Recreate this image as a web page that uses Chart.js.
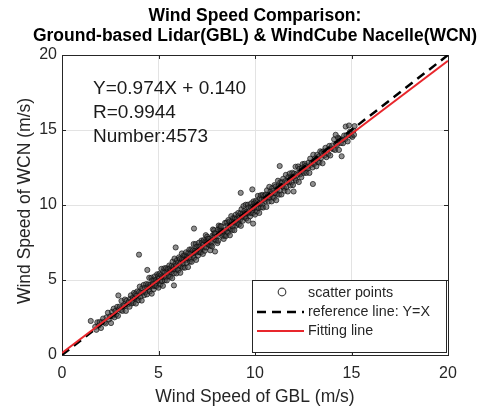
<!DOCTYPE html>
<html>
<head>
<meta charset="utf-8">
<script src="https://cdn.jsdelivr.net/npm/chart.js"></script>
<style>
  html, body { margin: 0; padding: 0; background: #fff; }
  #wrap { width: 483px; height: 407px; }
</style>
</head>
<body>
<div id="wrap"><canvas id="windChart" width="483" height="407"></canvas></div>
<script>
// titles and labels
const titleLines = ['Wind Speed Comparison:', 'Ground-based Lidar(GBL) & WindCube Nacelle(WCN)'];
const xTitle = 'Wind Speed of GBL (m/s)';
const yTitle = 'Wind Speed of WCN (m/s)';
const statLines = ['Y=0.974X + 0.140', 'R=0.9944', 'Number:4573'];
const legendLabels = ['scatter points', 'reference line: Y=X', 'Fitting line'];

// axis ticks
const axisTicks = [0, 5, 10, 15, 20];

// fit: slope, intercept
const fitCoef = [0.974, 0.140];
// reference line Y=X end points
const refX = [0, 20];
const refY = [0, 20];

// scatter points (GBL -> x, WCN -> y)
const gblSpeed = [
  1.72,1.78,1.83,1.9,1.95,2.02,2.08,2.13,2.2,2.26,2.31,2.38,2.44,
  2.5,2.54,2.59,2.63,2.68,2.72,2.77,2.81,2.86,2.9,2.95,2.99,3.04,3.08,3.13,3.17,3.22,3.26,3.31,3.35,3.4,3.45,
  3.5,3.53,3.57,3.6,3.63,3.67,3.7,3.73,3.77,3.8,3.83,3.86,3.9,3.93,3.96,4.0,4.03,4.06,4.1,4.13,4.16,4.2,4.23,4.26,4.3,4.33,4.36,4.4,4.43,4.47,
  4.5,4.52,4.55,4.57,4.6,4.63,4.65,4.68,4.7,4.73,4.75,4.78,4.8,4.83,4.85,4.88,4.9,4.93,4.95,4.98,5.0,5.03,5.05,5.08,5.1,5.13,5.15,5.18,5.2,5.23,5.25,5.28,5.3,5.33,5.35,5.38,5.4,5.43,5.45,5.48,
  5.51,5.53,5.56,5.58,5.61,5.63,5.66,5.68,5.71,5.73,5.76,5.78,5.81,5.83,5.86,5.88,5.91,5.93,5.96,5.98,6.01,6.03,6.06,6.08,6.11,6.13,6.16,6.18,6.21,6.23,6.26,6.28,6.31,6.33,6.36,6.38,6.41,6.43,6.46,6.48,
  6.5,6.53,6.55,6.57,6.6,6.63,6.65,6.67,6.7,6.72,6.75,6.78,6.8,6.82,6.85,6.88,6.9,6.93,6.95,6.97,7.0,7.03,7.05,7.07,7.1,7.13,7.15,7.17,7.2,7.23,7.25,7.27,7.3,7.33,7.35,7.37,7.4,7.43,7.45,7.47,
  7.5,7.52,7.55,7.58,7.6,7.62,7.65,7.68,7.7,7.72,7.75,7.78,7.8,7.82,7.85,7.88,7.9,7.92,7.95,7.98,8.0,8.02,8.05,8.08,8.1,8.12,8.15,8.18,8.2,8.22,8.25,8.28,8.3,8.32,8.35,8.38,8.4,8.42,8.45,8.48,
  8.5,8.53,8.55,8.57,8.6,8.62,8.65,8.68,8.7,8.73,8.75,8.77,8.8,8.83,8.85,8.87,8.9,8.93,8.95,8.97,9.0,9.03,9.05,9.07,9.1,9.13,9.15,9.17,9.2,9.23,9.25,9.27,9.3,9.33,9.35,9.37,9.4,9.43,9.45,9.47,
  9.5,9.52,9.55,9.57,9.6,9.63,9.65,9.67,9.7,9.73,9.75,9.78,9.8,9.82,9.85,9.88,9.9,9.92,9.95,9.97,10.0,10.03,10.05,10.08,10.1,10.12,10.15,10.18,10.2,10.22,10.25,10.28,10.3,10.32,10.35,10.38,10.4,10.42,10.45,10.48,
  10.5,10.53,10.56,10.59,10.62,10.65,10.68,10.71,10.74,10.77,10.8,10.83,10.86,10.89,10.92,10.95,10.98,11.01,11.04,11.07,11.1,11.13,11.16,11.19,11.22,11.25,11.28,11.31,11.34,11.37,11.4,11.43,11.46,
  11.5,11.53,11.57,11.6,11.63,11.67,11.7,11.73,11.77,11.8,11.83,11.87,11.9,11.93,11.97,12.0,12.03,12.07,12.1,12.13,12.17,12.2,12.23,12.27,12.3,12.33,12.37,12.4,12.43,12.47,
  12.5,12.54,12.58,12.62,12.66,12.7,12.74,12.78,12.82,12.86,12.9,12.94,12.98,13.02,13.06,13.1,13.14,13.18,13.22,13.26,13.3,13.34,13.38,13.42,13.46,
  13.5,13.55,13.6,13.65,13.7,13.75,13.8,13.85,13.9,13.95,14.0,14.05,14.1,14.15,14.2,14.25,14.3,14.35,14.4,14.45,
  14.5,14.56,14.62,14.68,14.74,14.8,14.86,14.92,14.98,15.04,15.1,15.16,
  // scattered outliers
  1.49,2.92,3.99,4.42,5.8,5.89,6.84,7.93,9.26,9.86,9.9,11.28,12.0,13.0,14.49,14.18,14.7,14.87,15.13
];
const wcnSpeed = [
  1.88,1.68,2.18,1.96,2.2,1.8,2.22,2.43,2.18,2.1,2.51,2.82,2.37,
  2.58,2.13,2.88,2.62,3.09,2.51,2.94,2.7,3.21,2.61,3.06,3.23,2.99,3.61,2.94,3.31,3.26,3.7,2.94,3.63,3.37,3.53,
  3.22,3.75,3.98,3.44,3.61,3.81,3.48,4.14,3.77,4.07,3.43,3.97,4.24,3.82,3.65,4.2,4.56,3.88,4.16,3.63,4.46,4.16,4.67,3.99,4.47,4.18,4.73,4.04,4.52,4.71,
  4.37,5.15,4.23,4.69,4.59,5.15,4.09,4.98,4.59,4.77,4.38,5.0,5.24,4.6,4.79,5.01,4.6,5.38,4.91,5.26,4.49,5.12,5.41,4.91,4.7,5.33,5.74,4.93,5.23,4.61,5.57,5.2,5.78,4.98,5.51,5.17,5.8,4.97,5.52,5.73,
  5.42,5.27,5.97,5.77,5.21,5.64,5.52,5.95,5.12,6.22,5.72,5.87,5.46,6.43,5.7,6.1,5.95,5.44,6.33,5.74,6.14,5.65,6.51,5.97,6.4,5.48,6.16,5.9,6.77,6.4,5.83,6.08,6.64,6.39,5.82,6.63,6.34,6.85,6.13,6.58,
  6.48,5.86,6.82,6.44,7.03,6.23,6.76,6.41,7.05,6.21,6.77,6.98,6.62,7.4,6.48,6.95,6.84,7.4,6.34,7.22,6.84,7.02,6.63,7.24,7.49,6.85,7.04,7.25,6.85,7.63,7.16,7.5,6.74,7.37,7.66,7.15,6.95,7.58,7.99,7.17,
  7.55,7.89,7.75,7.59,7.35,7.74,7.32,6.98,7.54,7.29,7.46,7.24,7.97,8.37,7.89,8.32,8.12,7.88,8.09,7.67,7.62,7.9,7.46,8.36,7.62,8.63,8.1,8.42,8.6,8.3,8.57,8.27,8.09,7.92,8.26,7.74,8.21,7.97,8.81,8.34,
  7.94,8.83,8.24,8.63,8.15,9.0,8.47,8.9,7.98,8.66,8.4,9.26,8.9,8.33,8.58,9.13,8.89,8.32,9.13,8.83,9.35,8.63,9.08,8.91,8.77,9.47,9.27,8.7,9.14,9.02,9.45,8.61,9.72,9.22,9.37,8.95,9.93,9.2,9.6,9.44,
  9.24,10.02,9.1,9.56,9.46,10.02,8.96,9.84,9.46,9.64,9.25,9.87,10.11,9.46,9.66,9.88,9.47,10.24,9.78,10.12,9.36,9.99,10.28,9.78,9.57,10.19,10.61,9.8,10.1,9.47,10.44,10.07,10.65,9.84,10.38,10.04,10.67,9.83,10.39,10.6,
  10.38,10.26,10.7,9.87,10.98,10.48,10.64,10.23,11.21,10.48,10.89,10.74,10.24,11.13,10.55,10.95,10.47,11.33,10.8,11.23,10.32,11.0,10.75,11.62,11.26,10.69,10.95,11.51,11.27,10.7,11.52,11.23,11.75,
  11.15,10.95,11.59,12.01,11.2,11.52,10.9,11.87,11.51,12.1,11.3,11.85,11.51,12.15,11.33,11.89,12.1,11.76,12.55,11.63,12.11,12.01,12.57,11.53,12.42,12.04,12.23,11.85,12.47,12.73,
  12.24,12.14,12.75,12.6,12.14,12.53,12.44,12.83,12.14,13.09,12.68,12.83,12.5,13.35,12.74,13.1,12.99,12.58,13.35,12.87,13.23,12.83,13.58,13.14,13.52,
  12.78,13.58,13.31,13.81,13.19,13.65,13.4,13.94,13.3,13.78,13.97,13.72,14.38,13.67,14.07,14.01,14.49,13.67,14.41,14.13,
  14.32,14.12,14.63,14.4,14.65,14.24,14.66,14.88,14.62,14.54,14.96,15.26,
  // scattered outliers
  2.27,3.97,6.69,5.67,4.64,7.17,8.43,6.9,10.81,11.04,8.76,12.6,10.9,11.4,13.25,14.68,15.23,15.3,14.68
];

const FONT = '"Liberation Sans", Arial, Helvetica, sans-serif';
const TEXT = '#262626';

const fitX = [0, 20];
const fitData = fitX.map(x => ({ x: x, y: fitCoef[0] * x + fitCoef[1] }));
const refData = refX.map((x, i) => ({ x: x, y: refY[i] }));
const scatterData = gblSpeed.map((x, i) => ({ x: x, y: wcnSpeed[i] }));

// box, inner ticks, titles, stats text and the matlab-like legend
const decorPlugin = {
  id: 'decor',
  beforeDatasetsDraw(chart) {
    const { ctx, chartArea: a } = chart;
    ctx.save();
    ctx.strokeStyle = '#262626';
    ctx.lineWidth = 1;
    ctx.strokeRect(a.left + 0.5, a.top + 0.5, a.right - a.left, a.bottom - a.top);
    const xs = chart.scales.x, ys = chart.scales.y;
    ctx.beginPath();
    axisTicks.slice(1, -1).forEach(v => {
      const px = Math.round(xs.getPixelForValue(v)) + 0.5;
      ctx.moveTo(px, a.bottom); ctx.lineTo(px, a.bottom - 4);
      ctx.moveTo(px, a.top); ctx.lineTo(px, a.top + 4);
      const py = Math.round(ys.getPixelForValue(v)) + 0.5;
      ctx.moveTo(a.left, py); ctx.lineTo(a.left + 4, py);
      ctx.moveTo(a.right, py); ctx.lineTo(a.right - 4, py);
    });
    ctx.stroke();
    ctx.restore();
  },
  afterDraw(chart) {
    const { ctx, chartArea: a } = chart;
    const cx = (a.left + a.right) / 2;
    ctx.save();
    ctx.textBaseline = 'middle';

    // title
    ctx.fillStyle = '#000';
    ctx.font = 'bold 17.5px ' + FONT;
    ctx.textAlign = 'center';
    ctx.fillText(titleLines[0], cx, 16);
    ctx.fillText(titleLines[1], cx, 36);

    // axis titles
    ctx.fillStyle = TEXT;
    ctx.font = '17.5px ' + FONT;
    ctx.fillText(xTitle, cx, 397);
    ctx.save();
    ctx.translate(25, 201);
    ctx.rotate(-Math.PI / 2);
    ctx.fillText(yTitle, 0, 0);
    ctx.restore();

    // stats
    ctx.textAlign = 'left';
    ctx.fillStyle = '#1a1a1a';
    ctx.font = '19px ' + FONT;
    statLines.forEach((t, i) => ctx.fillText(t, a.left + 31, 89 + i * 24));

    // legend box
    const lx = 252, ly = 280, lw = 194, lh = 72;
    ctx.fillStyle = '#fff';
    ctx.fillRect(lx, ly, lw, lh);
    ctx.strokeStyle = '#262626';
    ctx.lineWidth = 1;
    ctx.strokeRect(lx + 0.5, ly + 0.5, lw, lh);
    const rows = [293, 312, 331];
    ctx.font = '14.3px ' + FONT;
    ctx.fillStyle = TEXT;
    legendLabels.forEach((t, i) => ctx.fillText(t, lx + 56, rows[i]));
    // marker
    ctx.beginPath();
    ctx.arc(lx + 30, rows[0] - 1, 3.8, 0, Math.PI * 2);
    ctx.strokeStyle = '#444';
    ctx.lineWidth = 1.2;
    ctx.stroke();
    // dashed
    ctx.beginPath();
    ctx.setLineDash([9, 6]);
    ctx.strokeStyle = '#000';
    ctx.lineWidth = 2.5;
    ctx.moveTo(lx + 5, rows[1]); ctx.lineTo(lx + 52, rows[1]);
    ctx.stroke();
    ctx.setLineDash([]);
    ctx.beginPath();
    ctx.strokeStyle = '#e8262c';
    ctx.lineWidth = 2;
    ctx.moveTo(lx + 5, rows[2]); ctx.lineTo(lx + 52, rows[2]);
    ctx.stroke();
    ctx.restore();
  }
};

const ctx = document.getElementById('windChart').getContext('2d');
new Chart(ctx, {
  type: 'scatter',
  data: {
    datasets: [
      {
        type: 'line',
        label: legendLabels[2],
        data: fitData,
        borderColor: '#e8262c',
        borderWidth: 2,
        pointRadius: 0,
        fill: false
      },
      {
        type: 'line',
        label: legendLabels[1],
        data: refData,
        borderColor: '#000',
        borderWidth: 2.5,
        borderDash: [9, 6],
        pointRadius: 0,
        fill: false
      },
      {
        label: legendLabels[0],
        data: scatterData,
        pointRadius: 2.6,
        pointBorderWidth: 0.8,
        backgroundColor: 'rgba(70,70,70,0.6)',
        borderColor: 'rgba(10,10,10,0.8)'
      }
    ]
  },
  options: {
    responsive: false,
    animation: false,
    layout: { padding: { left: 0, right: 35, top: 55, bottom: 0 } },
    plugins: {
      legend: { display: false },
      tooltip: { enabled: false },
      title: { display: false }
    },
    scales: {
      x: {
        type: 'linear',
        min: 0,
        max: 20,
        afterFit: s => { s.height = 52; },
        afterBuildTicks: s => { s.ticks = axisTicks.map(v => ({ value: v })); },
        grid: { color: '#e3e3e3', drawTicks: false },
        border: { display: false },
        ticks: { color: TEXT, padding: 9, font: { family: FONT, size: 16 } }
      },
      y: {
        type: 'linear',
        min: 0,
        max: 20,
        afterFit: s => { s.width = 62; },
        afterBuildTicks: s => { s.ticks = axisTicks.map(v => ({ value: v })); },
        grid: { color: '#e3e3e3', drawTicks: false },
        border: { display: false },
        ticks: { color: TEXT, padding: 5, font: { family: FONT, size: 16 } }
      }
    }
  },
  plugins: [decorPlugin]
});
</script>
</body>
</html>
